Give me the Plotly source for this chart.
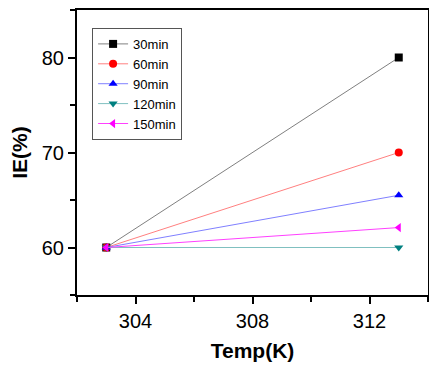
import plotly.graph_objects as go

temps = [303, 313]
labels = ["30min", "60min", "90min", "120min", "150min"]
ie_30 = [60, 80]
ie_60 = [60, 70]
ie_90 = [60, 65.5]
ie_120 = [60, 60]
ie_150 = [60, 62.1]
series = [ie_30, ie_60, ie_90, ie_120, ie_150]

line_colors = ["#808080", "#ff8080", "#8080ff", "#80c0c0", "#ff40ff"]
marker_colors = ["#000000", "#ff0000", "#0000ff", "#008080", "#ff00ff"]
symbols = ["square", "circle", "triangle-up", "triangle-down", "triangle-left"]

fig = go.Figure()
for lab, ys, lc, mc, sym in zip(labels, series, line_colors, marker_colors, symbols):
    fig.add_trace(go.Scatter(x=temps, y=ys, name=lab, mode="lines+markers",
                             line=dict(color=lc, width=1),
                             marker=dict(color=mc, symbol=sym, size=8)))

font_fam = "Liberation Sans, Arial"
axis_common = dict(showline=True, linecolor="black", linewidth=2, mirror=True,
                   ticks="outside", ticklen=7, tickwidth=2, tickcolor="black",
                   showgrid=False, zeroline=False, automargin=False,
                   tickfont=dict(family=font_fam, size=20, color="black"))

fig.update_layout(
    width=437, height=365,
    margin=dict(l=69, r=17, t=2, b=78),
    paper_bgcolor="white", plot_bgcolor="white",
    xaxis=dict(range=[302, 314], tickvals=[304, 308, 312],
               minor=dict(tickvals=[302, 306, 310, 314], ticks="outside", ticklen=5, tickwidth=2, tickcolor="black"),
               title=dict(text="<b>Temp(K)</b>", font=dict(family=font_fam, size=21, color="black"), standoff=12),
               **axis_common),
    yaxis=dict(range=[55, 85], tickvals=[60, 70, 80],
               minor=dict(tickvals=[55, 65, 75, 85], ticks="outside", ticklen=5, tickwidth=2, tickcolor="black"),
               title=dict(text="<b>IE(%)</b>", font=dict(family=font_fam, size=21, color="black"), standoff=12),
               **axis_common),
    legend=dict(x=0.043, y=0.937, xanchor="left", yanchor="top",
                bordercolor="#555555", borderwidth=1, bgcolor="white",
                font=dict(family=font_fam, size=13, color="black"),
                tracegroupgap=0, itemwidth=30),
    showlegend=True,
)

fig.write_html("out.html")
